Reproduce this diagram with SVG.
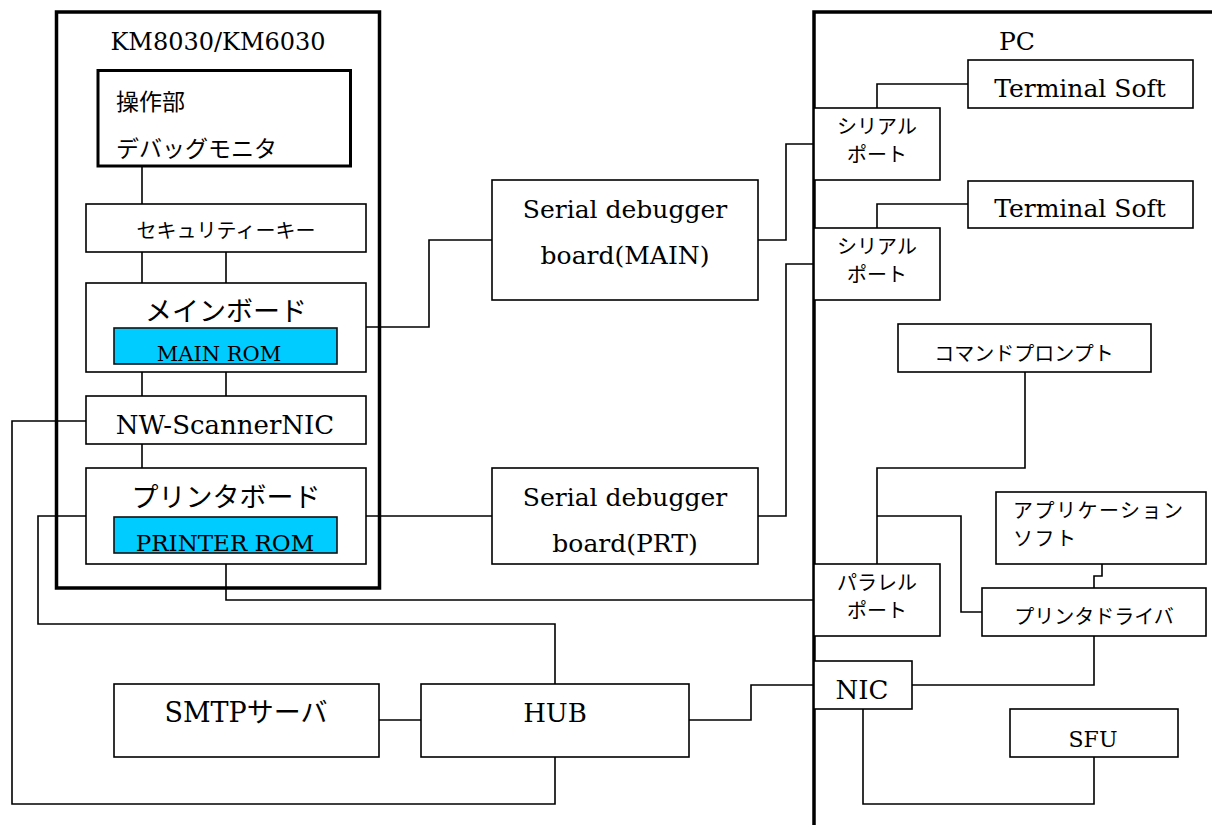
<svg xmlns="http://www.w3.org/2000/svg" width="1212" height="825" viewBox="0 0 1212 825">
<style>
  .box{fill:#fff;stroke:#000;stroke-width:1.6}
  .thick{fill:none;stroke:#000;stroke-width:3.5}
  .thickbox{fill:#fff;stroke:#000;stroke-width:3}
  .rom{fill:#00CCFF;stroke:#111;stroke-width:1.6}
  .ln{fill:none;stroke:#000;stroke-width:1.6}
  .sf{font-family:"DejaVu Serif","Liberation Serif","Noto Sans CJK JP",serif;fill:#000}
  .jp{font-family:"Noto Sans CJK JP","Noto Sans",sans-serif;fill:#000}
  .c{text-anchor:middle}
  .m{dominant-baseline:central}
</style>
<rect width="1212" height="825" fill="#fff"/>

<g id="km-frame">
  <rect class="thick" x="56.5" y="12" width="323" height="576"/>
  <text class="sf c" x="218" y="50" font-size="24">KM8030/KM6030</text>
</g>

<g id="pc-frame">
  <path class="thick" d="M814,825 V12 H1212"/>
  <text class="sf c" x="1017" y="50" font-size="25">PC</text>
</g>

<g id="connectors">
  <path class="ln" d="M142,166 V204"/>
  <path class="ln" d="M142,252 V283 M226,252 V283"/>
  <path class="ln" d="M142,372 V396 M226,372 V396"/>
  <path class="ln" d="M142,444 V468"/>
  <path class="ln" d="M86,421 H12 V804 H555 V757"/>
  <path class="ln" d="M86,516 H38 V624 H555 V684"/>
  <path class="ln" d="M366,327 H429 V240 H492"/>
  <path class="ln" d="M758,240 H786 V144 H814"/>
  <path class="ln" d="M366,516 H492"/>
  <path class="ln" d="M758,516 H786 V264 H814"/>
  <path class="ln" d="M226,564 V600 H814"/>
  <path class="ln" d="M379,720 H421"/>
  <path class="ln" d="M689,720 H751 V685 H814"/>
  <path class="ln" d="M877,108 V84 H968"/>
  <path class="ln" d="M877,228 V204 H968"/>
  <path class="ln" d="M877,564 V468 H1025 V372"/>
  <path class="ln" d="M877,516 H961 V612 H982"/>
  <path class="ln" d="M1102,564 V576 H1094 V588"/>
  <path class="ln" d="M912,685 H1094 V636"/>
  <path class="ln" d="M863,709 V804 H1094 V757"/>
</g>

<g id="panel">
  <rect class="thickbox" x="98" y="70.5" width="252.5" height="95.5"/>
  <text class="jp m" x="116" y="100" font-size="23">操作部</text>
  <text class="jp m" x="116" y="147" font-size="23">デバッグモニタ</text>
</g>

<g id="security-key">
  <rect class="box" x="86" y="204" width="280" height="48"/>
  <text class="jp c m" x="226" y="229" font-size="20">セキュリティーキー</text>
</g>

<g id="main-board">
  <rect class="box" x="86" y="283" width="280" height="89"/>
  <text class="jp c m" x="226" y="309" font-size="27">メインボード</text>
  <rect class="rom" x="114" y="328" width="223" height="36"/>
  <text class="sf c" x="219" y="361" font-size="21">MAIN ROM</text>
</g>

<g id="nw-scanner-nic">
  <rect class="box" x="86" y="396" width="280" height="48"/>
  <text class="sf c" x="225" y="434" font-size="26">NW-ScannerNIC</text>
</g>

<g id="printer-board">
  <rect class="box" x="86" y="468" width="280" height="96"/>
  <text class="jp c m" x="226" y="495" font-size="27">プリンタボード</text>
  <rect class="rom" x="114" y="517" width="223" height="36"/>
  <text class="sf c" x="225" y="551" font-size="23">PRINTER ROM</text>
</g>

<g id="serial-main">
  <rect class="box" x="492" y="180" width="266" height="120"/>
  <text class="sf c" x="625" y="218" font-size="25">Serial debugger</text>
  <text class="sf c" x="625" y="264" font-size="25">board(MAIN)</text>
</g>

<g id="serial-prt">
  <rect class="box" x="492" y="468" width="266" height="96"/>
  <text class="sf c" x="625" y="506" font-size="25">Serial debugger</text>
  <text class="sf c" x="625" y="552" font-size="25">board(PRT)</text>
</g>

<g id="smtp">
  <rect class="box" x="114" y="684" width="265" height="73"/>
  <text class="sf c" x="246" y="722" font-size="27">SMTPサーバ</text>
</g>

<g id="hub">
  <rect class="box" x="421" y="684" width="268" height="73"/>
  <text class="sf c" x="555" y="722" font-size="26">HUB</text>
</g>

<g id="serial-port-1">
  <rect class="box" x="814" y="108" width="126" height="72"/>
  <text class="jp c m" x="877" y="125" font-size="20">シリアル</text>
  <text class="jp c m" x="877" y="153" font-size="20">ポート</text>
</g>

<g id="terminal-1">
  <rect class="box" x="968" y="60" width="225" height="48"/>
  <text class="sf c" x="1080" y="97" font-size="25">Terminal Soft</text>
</g>

<g id="serial-port-2">
  <rect class="box" x="814" y="228" width="126" height="72"/>
  <text class="jp c m" x="877" y="245" font-size="20">シリアル</text>
  <text class="jp c m" x="877" y="273" font-size="20">ポート</text>
</g>

<g id="terminal-2">
  <rect class="box" x="968" y="181" width="225" height="47"/>
  <text class="sf c" x="1080" y="217" font-size="25">Terminal Soft</text>
</g>

<g id="command-prompt">
  <rect class="box" x="898" y="324" width="253" height="48"/>
  <text class="jp c m" x="1024" y="352" font-size="20">コマンドプロンプト</text>
</g>

<g id="app-soft">
  <rect class="box" x="996" y="492" width="210" height="72"/>
  <text class="jp m" x="1013" y="509" font-size="20" letter-spacing="1.5">アプリケーション</text>
  <text class="jp m" x="1013" y="537" font-size="20" letter-spacing="1.5">ソフト</text>
</g>

<g id="parallel-port">
  <rect class="box" x="814" y="564" width="126" height="72"/>
  <text class="jp c m" x="877" y="581" font-size="20">パラレル</text>
  <text class="jp c m" x="877" y="609" font-size="20">ポート</text>
</g>

<g id="printer-driver">
  <rect class="box" x="982" y="588" width="224" height="48"/>
  <text class="jp c m" x="1094" y="615" font-size="20">プリンタドライバ</text>
</g>

<g id="nic">
  <rect class="box" x="814" y="661" width="98" height="48"/>
  <text class="sf c" x="862" y="699" font-size="26">NIC</text>
</g>

<g id="sfu">
  <rect class="box" x="1010" y="709" width="168" height="48"/>
  <text class="sf c" x="1093" y="747" font-size="22">SFU</text>
</g>
</svg>
